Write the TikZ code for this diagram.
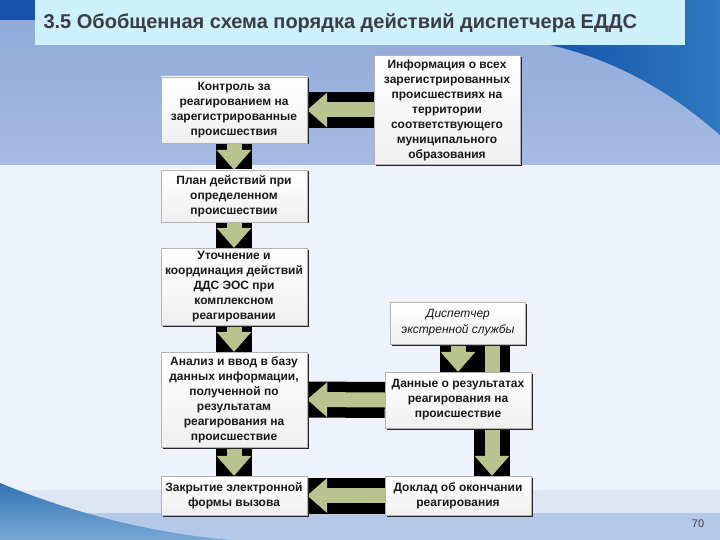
\documentclass[tikz,border=0pt]{standalone}
\usepackage{fontspec}
\setmainfont{Liberation Sans}
\usetikzlibrary{arrows.meta,shadows}

\definecolor{arrgreen}{RGB}{184,196,142}
\definecolor{titlecyan}{RGB}{205,240,252}
\definecolor{titletext}{RGB}{58,62,66}
\definecolor{topblue}{RGB}{142,168,216}
\definecolor{midblue}{RGB}{166,186,227}
\definecolor{darkblue}{RGB}{22,84,172}
\definecolor{swoopblue}{RGB}{45,122,192}
\definecolor{paleback}{RGB}{238,242,250}
\definecolor{bandlight}{RGB}{222,230,243}
\definecolor{bandblue}{RGB}{180,200,232}
\definecolor{tealdark}{RGB}{52,114,180}
\definecolor{teallight}{RGB}{120,170,214}

\pgfdeclarelayer{bg}
\pgfdeclarelayer{mid}
\pgfsetlayers{bg,mid,main}

\begin{document}
\begin{tikzpicture}[x=1pt, y=-1pt]
\tikzstyle{box} = [draw=gray!60, top color=white, bottom color=gray!12, align=center,
  inner sep=2pt, minimum width=146pt, text=black!90,
  font=\bfseries\fontsize{12}{15}\selectfont,
  drop shadow={shadow xshift=1.5pt, shadow yshift=-1.5pt, fill=black!85, opacity=1}]
\tikzstyle{blk} = [line width=36pt, draw=black]
\tikzstyle{grn} = [line width=15pt, draw=arrgreen, -{Triangle[width=35pt, length=20pt, line width=0pt]}]
\useasboundingbox (0,0) rectangle (720,540);

% slide background
\begin{pgfonlayer}{bg}
\fill[paleback] (0,0) rectangle (720,540);
\shade[top color=topblue, bottom color=midblue] (0,0) rectangle (720,165);
\shade[left color=darkblue, right color=swoopblue] (550,45) .. controls (625,62) and (680,100) .. (720,135) -- (720,0) -- (550,0) -- cycle;
\fill[darkblue] (0,0) rectangle (35,20);
\fill[bandlight] (0,490) rectangle (720,513);
\fill[bandblue] (0,513) rectangle (720,540);
\shade[top color=tealdark, bottom color=teallight] (0,483) .. controls (60,508) and (140,532) .. (230,540) -- (0,540) -- cycle;
\fill[titlecyan] (35,0) rectangle (685,45);
\end{pgfonlayer}

\node[anchor=west, text=titletext, font=\bfseries\fontsize{20}{24}\selectfont] (title) at (40,23) {3.5 Обобщенная схема порядка действий диспетчера ЕДДС};
\node[text=titletext, font=\fontsize{11}{13}\selectfont] (pagenum) at (698,524) {70};

% boxes
\node[box, minimum height=66pt] (kontrol) at (234,110) {Контроль за\\реагированием на\\зарегистрированные\\происшествия};
\node[box, minimum height=109pt] (info) at (447,110) {Информация о всех\\зарегистрированных\\происшествиях на\\территории\\соответствующего\\муниципального\\образования};
\node[box, minimum height=52pt] (plan) at (234,196) {План действий при\\определенном\\происшествии};
\node[box, minimum height=77pt] (utoch) at (234,286.5) {Уточнение и\\координация действий\\ДДС ЭОС при\\комплексном\\реагировании};
\node[box, minimum height=95pt] (analiz) at (234,399.5) {Анализ и ввод в базу\\данных информации,\\полученной по\\результатам\\реагирования на\\происшествие};
\node[box, minimum height=39pt] (zakr) at (234,495.5) {Закрытие электронной\\формы вызова};
\node[box, minimum width=135pt, minimum height=42pt, font=\itshape\fontsize{12}{16}\selectfont] (disp) at (458,323) {Диспетчер\\экстренной службы};
\node[box, minimum height=56pt] (dannye) at (458,400) {Данные о результатах\\реагирования на\\происшествие};
\node[box, minimum height=39pt] (doklad) at (458,495.5) {Доклад об окончании\\реагирования};
\coordinate (disp-r) at ([xshift=34pt]disp.south);
\coordinate (doklad-r) at ([xshift=34pt]doklad.north);

% block arrows
\begin{pgfonlayer}{mid}
\foreach \from/\to in {disp-r/doklad-r, info.west/kontrol.east, kontrol.south/plan.north, plan.south/utoch.north, utoch.south/analiz.north, analiz.south/zakr.north, disp.south/dannye.north, dannye.west/analiz.east, doklad.west/zakr.east}
{
\draw [blk] (\from) -- (\to);
\draw [grn] (\from) -- (\to);
}
\end{pgfonlayer}
\end{tikzpicture}
\end{document}
